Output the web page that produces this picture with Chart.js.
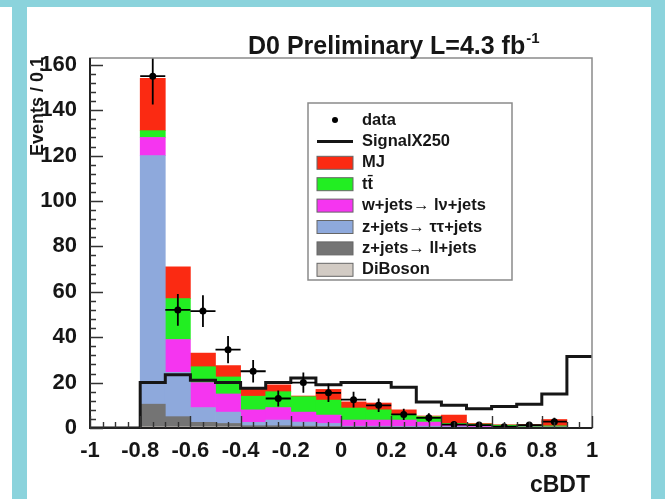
<!DOCTYPE html>
<html>
<head>
<meta charset="utf-8">
<script src="https://cdn.jsdelivr.net/npm/chart.js@4.4.1/dist/chart.umd.min.js"></script>
<style>
html, body { margin: 0; padding: 0; background: #fff; }
#wrap { position: relative; width: 665px; height: 499px; overflow: hidden; background: #fff; }
.band { position: absolute; background: #8bd3dc; }
canvas { position: absolute; left: 0; top: 0; }
</style>
</head>
<body>
<div id="wrap">
  <div class="band" style="left:0;top:0;width:665px;height:7px"></div>
  <div class="band" style="left:12px;top:0;width:15px;height:499px"></div>
  <div class="band" style="left:651px;top:0;width:14px;height:499px"></div>
  <canvas id="c" width="665" height="499"></canvas>
</div>
<script>
// cBDT bins: 20 bins of width 0.1 from -1 to 1
const binCenters = [-0.95, -0.85, -0.75, -0.65, -0.55, -0.45, -0.35, -0.25, -0.15, -0.05,
                    0.05, 0.15, 0.25, 0.35, 0.45, 0.55, 0.65, 0.75, 0.85, 0.95];
const binEdges = [-1, -0.9, -0.8, -0.7, -0.6, -0.5, -0.4, -0.3, -0.2, -0.1, 0,
                  0.1, 0.2, 0.3, 0.4, 0.5, 0.6, 0.7, 0.8, 0.9, 1];

// backgrounds, stacked bottom to top
const diboson = [0, 0, 0.5, 0.5, 0.5, 0.5, 0.3, 0.3, 0.3, 0.3, 0.2, 0.2, 0.2, 0.2, 0.1, 0.1, 0.05, 0.05, 0.05, 0];
const zll     = [0, 0, 10, 4.5, 2, 1.5, 0.7, 0.7, 0.5, 0.4, 0.3, 0.3, 0.2, 0.2, 0.2, 0.1, 0.1, 0.1, 0.1, 0];
const ztautau = [0, 0, 109.5, 19.5, 6.5, 5, 1.5, 2.5, 1.8, 1.3, 0.3, 0.3, 0.3, 0.4, 0.3, 0.2, 0.1, 0.1, 0.1, 0];
const wjets   = [0, 0, 8, 14.5, 11, 8, 5.5, 5.5, 4.4, 3.7, 2.7, 2.7, 2.8, 1.8, 0.6, 0.3, 0.2, 0.2, 0.2, 0];
const ttbar   = [0, 0, 3, 18, 7, 7.5, 6, 7, 6.8, 6.6, 5.3, 4.5, 2.5, 2.4, 0.8, 1.0, 0.8, 0.8, 0.5, 0];
const mj      = [0, 0, 23, 14, 6, 5, 3.5, 3, 0.3, 4.7, 2.7, 3, 2, 0.3, 3.7, 0.3, 0.2, 0.3, 2.8, 0];

// signal (not stacked)
const signalX250 = [0, 0, 20, 23.5, 21, 20, 17.5, 20, 22, 19, 20, 20, 18, 11.5, 10, 8.5, 9.5, 10.5, 15, 31.5];

// observed data with statistical errors (null = empty bin)
const dataEvents = [null, null, 155, 52, 51.5, 34.5, 25, 13, 20, 15.5, 12.5, 10, 6, 4.5, 1.5, 1.3, 0.6, 1.3, 2.8, null];
const dataErrors = [0, 0, 12.5, 7, 7, 6, 5, 3.5, 4.5, 4, 3.5, 3, 2.5, 2, 1.2, 1.1, 0.8, 1.1, 1.7, 0];

const xTicks = [-1, -0.8, -0.6, -0.4, -0.2, 0, 0.2, 0.4, 0.6, 0.8, 1];
const xTickLabels = ['-1', '-0.8', '-0.6', '-0.4', '-0.2', '0', '0.2', '0.4', '0.6', '0.8', '1'];
const yTicks = [0, 20, 40, 60, 80, 100, 120, 140, 160];
const yTickLabels = ['0', '20', '40', '60', '80', '100', '120', '140', '160'];

const FONT = '"Liberation Sans", Arial, Helvetica, sans-serif';
const INK = '#161616';

const legendItems = [
  { label: 'data', kind: 'dot' },
  { label: 'SignalX250', kind: 'line' },
  { label: 'MJ', kind: 'box', color: '#fb2a12' },
  { label: 't\u0074\u0304', kind: 'box', color: '#22ee22' },
  { label: 'w+jets\u2192 l\u03bd+jets', kind: 'box', color: '#f535f0' },
  { label: 'z+jets\u2192 \u03c4\u03c4+jets', kind: 'box', color: '#8ea9dc' },
  { label: 'z+jets\u2192 ll+jets', kind: 'box', color: '#747474' },
  { label: 'DiBoson', kind: 'box', color: '#d2cbc4' }
];

function hist(values) {
  return values.map((v, i) => ({ x: binCenters[i], y: v }));
}

function bars(label, values, color) {
  return {
    type: 'bar', label, data: hist(values), backgroundColor: color,
    borderWidth: 0, barPercentage: 1, categoryPercentage: 1,
    stack: 'bkg', order: 2
  };
}

// ROOT-like frame, inward ticks, error bars, legend and titles
const rootDecor = {
  id: 'rootDecor',
  afterDatasetsDraw(chart) {
    const { ctx, chartArea: a, scales: { x, y } } = chart;
    ctx.save();
    ctx.beginPath();
    ctx.rect(a.left, a.top, a.right - a.left, a.bottom - a.top);
    ctx.clip();
    ctx.strokeStyle = '#000';
    ctx.lineWidth = 1.8;
    dataEvents.forEach((v, i) => {
      if (v === null) return;
      const cx = x.getPixelForValue(binCenters[i]);
      const cy = y.getPixelForValue(v);
      ctx.beginPath();
      ctx.moveTo(cx, y.getPixelForValue(v - dataErrors[i]));
      ctx.lineTo(cx, y.getPixelForValue(v + dataErrors[i]));
      ctx.moveTo(x.getPixelForValue(binEdges[i]), cy);
      ctx.lineTo(x.getPixelForValue(binEdges[i + 1]), cy);
      ctx.stroke();
    });
    ctx.restore();

    ctx.save();
    // frame
    ctx.strokeStyle = '#8a8a8a';
    ctx.lineWidth = 1.5;
    ctx.strokeRect(a.left, a.top, a.right - a.left, a.bottom - a.top);
    ctx.strokeStyle = '#222';
    ctx.lineWidth = 2;
    ctx.beginPath();
    ctx.moveTo(a.left, a.top);
    ctx.lineTo(a.left, a.bottom);
    ctx.lineTo(a.right, a.bottom);
    ctx.stroke();

    // ticks
    ctx.lineWidth = 1.4;
    ctx.strokeStyle = '#333';
    ctx.beginPath();
    for (let i = 0; i <= 40; i++) {
      const py = Math.round(y.getPixelForValue(i * 4)) + 0.5;
      const len = i % 5 === 0 ? 13 : 6;
      ctx.moveTo(a.left, py);
      ctx.lineTo(a.left + len, py);
    }
    for (let i = 0; i <= 40; i++) {
      const px = Math.round(x.getPixelForValue(-1 + i * 0.05)) + 0.5;
      const len = i % 4 === 0 ? 12 : 6;
      ctx.moveTo(px, a.bottom);
      ctx.lineTo(px, a.bottom - len);
    }
    ctx.stroke();

    // legend
    const lx = 308, ly = 103, lw = 204, lh = 177;
    ctx.fillStyle = '#fff';
    ctx.fillRect(lx, ly, lw, lh);
    ctx.strokeStyle = '#8a8a8a';
    ctx.lineWidth = 1.5;
    ctx.strokeRect(lx, ly, lw, lh);
    ctx.font = 'bold 16.5px ' + FONT;
    ctx.textBaseline = 'middle';
    ctx.textAlign = 'left';
    legendItems.forEach((it, i) => {
      const cy = 120 + i * 21.4;
      if (it.kind === 'dot') {
        ctx.fillStyle = '#000';
        ctx.beginPath();
        ctx.arc(335, cy, 3, 0, Math.PI * 2);
        ctx.fill();
      } else if (it.kind === 'line') {
        ctx.strokeStyle = INK;
        ctx.lineWidth = 3;
        ctx.beginPath();
        ctx.moveTo(317, cy);
        ctx.lineTo(353, cy);
        ctx.stroke();
      } else {
        ctx.fillStyle = it.color;
        ctx.fillRect(317, cy - 6.5, 36, 13);
        ctx.strokeStyle = '#666';
        ctx.lineWidth = 1;
        ctx.strokeRect(317, cy - 6.5, 36, 13);
      }
      ctx.fillStyle = INK;
      ctx.fillText(it.label, 362, cy);
    });
    ctx.restore();
  },
  afterDraw(chart) {
    const { ctx } = chart;
    ctx.save();
    ctx.fillStyle = INK;
    ctx.textBaseline = 'alphabetic';
    // title
    ctx.textAlign = 'left';
    ctx.font = 'bold 25px ' + FONT;
    const t = 'D0 Preliminary L=4.3 fb';
    ctx.fillText(t, 248, 54);
    const w = ctx.measureText(t).width;
    ctx.font = 'bold 15px ' + FONT;
    ctx.fillText('-1', 248 + w + 1, 43);
    // x title
    ctx.textAlign = 'right';
    ctx.font = 'bold 23px ' + FONT;
    ctx.fillText('cBDT', 590, 492);
    // y title
    ctx.translate(38, 57);
    ctx.rotate(-Math.PI / 2);
    ctx.textAlign = 'right';
    ctx.textBaseline = 'middle';
    ctx.font = 'bold 18px ' + FONT;
    ctx.fillText('Events / 0.1', 0, 0);
    ctx.restore();
  }
};

new Chart(document.getElementById('c'), {
  type: 'bar',
  data: {
    datasets: [
      {
        type: 'scatter', label: 'data', data: hist(dataEvents),
        pointRadius: 3.5, pointBackgroundColor: '#000', pointBorderWidth: 0,
        stack: 'data', order: 0
      },
      {
        type: 'line', label: 'SignalX250',
        data: binEdges.map((e, i) => ({ x: e, y: signalX250[Math.min(i, signalX250.length - 1)] })),
        stepped: 'before', borderColor: INK, borderWidth: 3, pointRadius: 0,
        fill: false, stack: 'sig', order: 1
      },
      bars('DiBoson', diboson, '#d2cbc4'),
      bars('z+jets ll', zll, '#747474'),
      bars('z+jets tautau', ztautau, '#8ea9dc'),
      bars('w+jets', wjets, '#f535f0'),
      bars('ttbar', ttbar, '#22ee22'),
      bars('MJ', mj, '#fb2a12')
    ]
  },
  options: {
    responsive: false,
    animation: false,
    devicePixelRatio: 1,
    layout: { padding: { left: 0, right: 73, top: 58, bottom: 0 } },
    plugins: { legend: { display: false }, tooltip: { enabled: false } },
    scales: {
      x: {
        type: 'linear', min: -1, max: 1, stacked: true, offset: false,
        afterFit: s => { s.height = 71; },
        afterBuildTicks: s => { s.ticks = xTicks.map(v => ({ value: v })); },
        grid: { display: false },
        border: { display: false },
        ticks: {
          autoSkip: false, maxRotation: 0, padding: 2, color: INK,
          font: { family: FONT, size: 22, weight: 'bold' },
          callback: (v, i) => xTickLabels[i]
        }
      },
      y: {
        min: 0, max: 163, stacked: true,
        afterFit: s => { s.width = 90; },
        afterBuildTicks: s => { s.ticks = yTicks.map(v => ({ value: v })); },
        grid: { display: false },
        border: { display: false },
        ticks: {
          autoSkip: false, padding: 5, color: INK,
          font: { family: FONT, size: 22, weight: 'bold' },
          callback: (v, i) => yTickLabels[i]
        }
      }
    }
  },
  plugins: [rootDecor]
});
</script>
</body>
</html>
